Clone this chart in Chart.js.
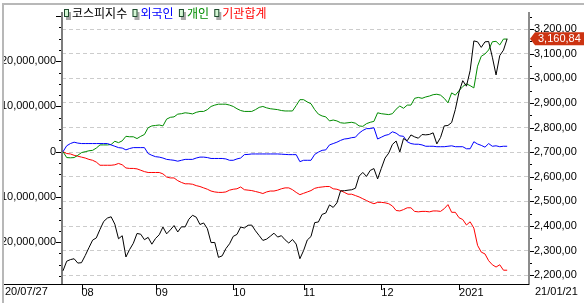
<!DOCTYPE html>
<html>
<head>
<meta charset="utf-8">
<script src="https://cdn.jsdelivr.net/npm/chart.js@4"></script>
<style>
html,body{margin:0;padding:0;background:#fff;}
#wrap{position:relative;width:584px;height:303px;}
canvas{display:block;}
</style>
</head>
<body>
<div id="wrap"><canvas id="c" width="584" height="303"></canvas></div>
<script>
// ---- data ----
const dates = [
 '20/07/27','20/07/28','20/07/29','20/07/30','20/07/31',
 '20/08/03','20/08/04','20/08/05','20/08/06','20/08/07','20/08/10','20/08/11','20/08/12','20/08/13','20/08/14',
 '20/08/18','20/08/19','20/08/20','20/08/21','20/08/24','20/08/25','20/08/26','20/08/27','20/08/28','20/08/31',
 '20/09/01','20/09/02','20/09/03','20/09/04','20/09/07','20/09/08','20/09/09','20/09/10','20/09/11','20/09/14',
 '20/09/15','20/09/16','20/09/17','20/09/18','20/09/21','20/09/22','20/09/23','20/09/24','20/09/25','20/09/28','20/09/29',
 '20/10/05','20/10/06','20/10/07','20/10/08','20/10/12','20/10/13','20/10/14','20/10/15','20/10/16','20/10/19',
 '20/10/20','20/10/21','20/10/22','20/10/23','20/10/26','20/10/27','20/10/28','20/10/29','20/10/30',
 '20/11/02','20/11/03','20/11/04','20/11/05','20/11/06','20/11/09','20/11/10','20/11/11','20/11/12','20/11/13',
 '20/11/16','20/11/17','20/11/18','20/11/19','20/11/20','20/11/23','20/11/24','20/11/25','20/11/26','20/11/27','20/11/30',
 '20/12/01','20/12/02','20/12/03','20/12/04','20/12/07','20/12/08','20/12/09','20/12/10','20/12/11','20/12/14',
 '20/12/15','20/12/16','20/12/17','20/12/18','20/12/21','20/12/22','20/12/23','20/12/24','20/12/28','20/12/29','20/12/30',
 '21/01/04','21/01/05','21/01/06','21/01/07','21/01/08','21/01/11','21/01/12','21/01/13','21/01/14','21/01/15',
 '21/01/18','21/01/19','21/01/20','21/01/21'
];
const kospi = [
 2217.86,2256.99,2263.50,2267.01,2249.37,
 2251.04,2279.97,2311.86,2342.61,2351.67,2386.38,2418.67,2432.35,2437.53,2407.49,
 2348.24,2360.54,2274.22,2304.59,2329.83,2369.68,2366.73,2344.45,2353.80,2326.17,
 2349.55,2364.57,2395.90,2368.25,2384.22,2401.91,2375.81,2396.69,2396.48,2427.66,
 2443.58,2435.92,2406.17,2412.40,2389.35,2332.59,2333.24,2272.70,2278.79,2308.08,2327.89,
 2358.00,2365.90,2395.90,2391.96,2403.15,2403.73,2380.48,2361.21,2341.53,2346.74,
 2358.41,2370.86,2355.08,2360.81,2343.91,2330.84,2345.26,2326.67,2267.15,
 2300.16,2343.31,2357.32,2413.79,2416.50,2447.20,2452.83,2485.87,2475.62,2493.87,
 2543.03,2543.35,2545.64,2547.42,2553.50,2602.59,2617.76,2601.54,2625.91,2633.45,2591.34,
 2634.25,2675.90,2696.22,2731.45,2745.44,2700.93,2755.47,2746.46,2770.06,2762.20,
 2756.82,2771.79,2770.43,2772.18,2778.65,2733.68,2759.82,2806.86,2808.60,2820.51,2873.47,
 2944.45,2990.57,2968.21,3031.68,3152.18,3148.45,3125.95,3148.29,3149.93,3085.90,
 3013.93,3092.66,3114.55,3160.84
];
// cumulative net buying, in millions (axis shows value x 1,000,000)
const foreign = [
 0,1.3,1.8,2.1,1.9,1.8,1.8,1.8,1.8,1.8,
 1.8,1.8,1.8,1.5,1.2,0.9,0.8,0.4,0.7,0.9,
 0.9,0.9,0.9,-0.4,-0.8,-1.1,-1.2,-1.4,-1.7,-1.8,
 -1.9,-2.1,-1.9,-1.7,-1.7,-1.7,-1.4,-1.2,-1.2,-1.3,
 -1.5,-1.5,-1.5,-1.5,-1.6,-1.9,-1.9,-1.6,-1.4,-0.65,
 -0.6,-0.5,-0.5,-0.5,-0.5,-0.5,-0.5,-0.5,-0.5,-0.55,
 -0.6,-0.65,-0.65,-0.65,-2.2,-1.9,-1.9,-1.9,-0.6,-0.1,
 0.3,0.4,1.5,1.8,2.1,2.5,2.8,2.9,3.1,3.2,
 4.1,4.7,5.1,5.1,5.3,2.8,3.2,3.6,3.8,4.4,
 4.1,3.5,3.4,2.2,1.8,1.65,1.65,1.5,1.2,1.2,
 1.2,1.1,1.1,1.1,1.2,1.3,1.1,1.1,1.1,0.65,
 0.65,2.2,1.7,1.4,1.0,1.8,1.2,1.3,1.1,1.2,
 1.2
];
const individual = [
 0,-1.3,-1.35,-1.3,-0.8,-0.2,0.0,0.2,0.3,0.8,
 1.5,1.5,1.5,1.6,2.3,2.0,2.4,3.4,3.3,3.3,
 2.9,3.4,3.8,5.3,5.7,5.8,5.9,5.7,7.2,7.6,
 7.7,8.3,8.4,8.6,8.5,8.35,8.7,8.9,8.9,9.3,
 10.0,10.3,10.5,10.5,10.5,10.3,10.0,9.5,9.1,8.9,
 8.9,8.9,9.3,9.8,10.0,9.7,9.5,9.4,9.3,9.1,
 9.0,9.0,9.0,10.2,11.5,11.5,11.0,10.6,9.3,8.3,
 7.9,7.7,6.8,7.0,6.8,6.4,6.3,6.4,6.5,6.3,
 5.7,5.6,6.2,6.5,6.7,8.6,8.4,8.3,8.2,8.4,
 9.4,10.1,9.6,10.3,10.3,11.8,12.0,11.8,12.1,12.3,
 12.6,12.7,12.5,11.8,10.8,13.0,12.5,13.5,14.4,15.0,
 14.6,14.1,18.9,21.1,21.6,22.5,24.3,24.4,23.6,24.9,
 24.9
];
const institution = [
 0,-0.4,-0.5,-0.8,-1.0,-1.2,-1.4,-1.7,-1.9,-2.3,
 -3.0,-3.0,-3.0,-3.0,-2.9,-2.6,-2.9,-3.6,-3.7,-3.7,
 -3.8,-4.1,-4.4,-4.6,-4.6,-4.6,-4.6,-4.9,-5.6,-5.8,
 -5.8,-6.4,-6.8,-7.1,-7.1,-7.2,-7.5,-7.7,-8.0,-8.3,
 -8.7,-8.9,-9.0,-9.0,-8.9,-8.5,-8.3,-8.2,-7.8,-8.4,
 -8.5,-8.6,-8.8,-9.0,-9.25,-8.9,-8.7,-8.7,-8.5,-8.2,
 -8.0,-8.0,-8.4,-9.0,-9.5,-9.2,-8.9,-8.6,-8.1,-7.9,
 -7.8,-7.7,-7.7,-8.2,-8.3,-8.6,-9.0,-9.4,-9.4,-9.7,
 -10.0,-10.4,-10.8,-11.2,-11.5,-11.2,-11.2,-11.3,-11.5,-12.0,
 -13.0,-13.1,-12.8,-12.4,-12.4,-13.2,-13.3,-13.2,-13.2,-13.3,
 -13.1,-13.1,-13.2,-12.6,-11.7,-13.4,-13.4,-14.6,-15.0,-16.2,
 -15.5,-16.9,-20.7,-22.2,-22.6,-24.1,-25.0,-25.5,-25.0,-26.2,
 -26.2
];
const seriesNames = ['코스피지수','외국인','개인','기관합계'];
const seriesColors = ['#000000','#0000ff','#008c00','#ff0000'];
const leftTicks = [-20,-10,0,10,20];          // millions
const leftMinorStep = 2.5;
const rightTicks = [2200,2300,2400,2500,2600,2700,2800,2900,3000,3100,3200];
const rightMinorStep = 50;
const leftRange = [-29.25, 30.75];
const rightRange = [2164.4, 3267.2];
const xRange = [-0.27, 125.9];

// ---- derived helpers ----
const monthTicks = [];
for (let i = 1; i < dates.length; i++) {
  const [yy, mm] = dates[i].split('/');
  const [py, pm] = dates[i-1].split('/');
  if (mm !== pm) monthTicks.push({ i, label: yy !== py ? '20' + yy : mm });
}
const fmtLeft = v => v === 0 ? '0' : Math.round(v * 1e6).toLocaleString('en-US');
const fmtRight = v => { const [ip, dp] = v.toFixed(2).split('.'); return Number(ip).toLocaleString('en-US') + ',' + dp; };
const FONT = '"Liberation Sans", Arial, sans-serif';

const decor = {
  id: 'decor',
  afterDraw(chart) {
    const ctx = chart.ctx, ca = chart.chartArea;
    const xs = chart.scales.x, yl = chart.scales.y, yr = chart.scales.y1;
    ctx.save();
    // bottom axis line
    ctx.strokeStyle = '#000'; ctx.lineWidth = 1;
    ctx.beginPath(); ctx.moveTo(3, ca.bottom + 0.5); ctx.lineTo(ca.right, ca.bottom + 0.5); ctx.stroke();
    // month ticks
    ctx.beginPath();
    monthTicks.forEach(m => {
      const x = Math.round(xs.getPixelForValue(m.i)) + 0.5;
      ctx.moveTo(x, ca.bottom); ctx.lineTo(x, ca.bottom + 6);
    });
    // left ticks
    for (let v = Math.ceil(leftRange[0] / leftMinorStep) * leftMinorStep; v <= leftRange[1]; v += leftMinorStep) {
      const y = Math.round(yl.getPixelForValue(v)) + 0.5;
      const major = Math.abs(v % 10) < 1e-9;
      ctx.moveTo(ca.left - (major ? 6 : 3), y); ctx.lineTo(ca.left - 1, y);
    }
    // right ticks
    for (let v = Math.ceil(rightRange[0] / rightMinorStep) * rightMinorStep; v <= rightRange[1]; v += rightMinorStep) {
      const y = Math.round(yr.getPixelForValue(v)) + 0.5;
      const major = v % 100 === 0;
      ctx.moveTo(ca.right + 1, y); ctx.lineTo(ca.right + (major ? 5 : 3), y);
    }
    ctx.stroke();
    // end date labels
    ctx.fillStyle = '#000'; ctx.font = '11px ' + FONT; ctx.textBaseline = 'top'; ctx.textAlign = 'left';
    ctx.fillText(dates[0], 5, ca.bottom + 2);
    ctx.fillText(dates[dates.length - 1], ca.right + 6, ca.bottom + 2);
    // last value box
    const last = kospi[kospi.length - 1];
    const cy = yr.getPixelForValue(last);
    ctx.fillStyle = '#cc3311';
    ctx.beginPath();
    ctx.moveTo(ca.right + 1, cy);
    ctx.lineTo(ca.right + 6, cy - 6.5);
    ctx.lineTo(chart.width, cy - 6.5);
    ctx.lineTo(chart.width, cy + 6.5);
    ctx.lineTo(ca.right + 6, cy + 6.5);
    ctx.closePath(); ctx.fill();
    ctx.fillStyle = '#fff'; ctx.textBaseline = 'middle';
    ctx.fillText(fmtRight(last), ca.right + 9, cy + 0.5);
    // legend
    ctx.font = '12px "Noto Sans CJK KR", sans-serif';
    let lx = ca.left + 2;
    seriesNames.forEach((name, k) => {
      ctx.fillStyle = '#a8a8a8'; ctx.fillRect(lx + 2, 12, 5, 8);
      ctx.fillStyle = '#d4f6d4'; ctx.fillRect(lx, 9, 5, 8);
      ctx.strokeStyle = '#1e4a2e'; ctx.lineWidth = 1; ctx.strokeRect(lx + 0.5, 9.5, 4, 7);
      ctx.fillStyle = seriesColors[k]; ctx.textBaseline = 'middle';
      ctx.fillText(name, lx + 8, 13.5);
      lx += 8 + ctx.measureText(name).width + 5.3;
    });
    // frame
    ctx.fillStyle = '#fff'; ctx.fillRect(0, 0, 2, chart.height); ctx.fillRect(0, 0, chart.width, 3);
    ctx.fillStyle = '#b8b8b8'; ctx.fillRect(2, 3, 2, chart.height); ctx.fillRect(2, 3, chart.width, 2);
    ctx.restore();
  }
};

const mk = (arr) => arr.map((v, i) => ({ x: i, y: v }));
const series = [kospi, foreign, individual, institution];
const axes = ['y1', 'y', 'y', 'y'];

new Chart(document.getElementById('c'), {
  type: 'line',
  data: {
    datasets: series.map((arr, k) => ({
      label: seriesNames[k], data: mk(arr), yAxisID: axes[k],
      borderColor: seriesColors[k], borderWidth: 1, pointRadius: 0, tension: 0, fill: false
    }))
  },
  options: {
    responsive: false, animation: false, devicePixelRatio: 1,
    layout: { padding: { top: 5, left: 0, right: 0, bottom: 0 }, autoPadding: false },
    plugins: { legend: { display: false }, tooltip: { enabled: false } },
    scales: {
      x: {
        type: 'linear', position: 'bottom', min: xRange[0], max: xRange[1],
        grid: { display: false, drawTicks: false }, border: { display: false },
        ticks: { autoSkip: false, maxRotation: 0, align: 'start', padding: 2, color: '#000', font: { family: FONT, size: 11 },
          callback: v => { const m = monthTicks.find(t => t.i === v); return m ? m.label : ''; } },
        afterBuildTicks: s => { s.ticks = monthTicks.map(m => ({ value: m.i })); },
        afterFit: s => { s.height = 19; }
      },
      y: {
        position: 'left', min: leftRange[0], max: leftRange[1],
        grid: { drawOnChartArea: false, drawTicks: false },
        border: { display: true, color: '#7c7c7c', width: 2 },
        ticks: { padding: 6, color: '#000', font: { family: FONT, size: 11 }, callback: v => fmtLeft(v) },
        afterBuildTicks: s => { s.ticks = leftTicks.map(v => ({ value: v })); },
        afterFit: s => { s.width = 62; }
      },
      y1: {
        position: 'right', min: rightRange[0], max: rightRange[1],
        grid: { drawOnChartArea: true, drawTicks: false, color: '#cccccc', lineWidth: 1 },
        border: { display: true, color: '#8c8c8c', width: 2, dash: [4, 3] },
        ticks: { padding: 5, color: '#000', font: { family: FONT, size: 11 }, callback: v => fmtRight(v) },
        afterBuildTicks: s => { s.ticks = rightTicks.map(v => ({ value: v })); },
        afterFit: s => { s.width = 55; }
      }
    }
  },
  plugins: [decor]
});
</script>
</body>
</html>
